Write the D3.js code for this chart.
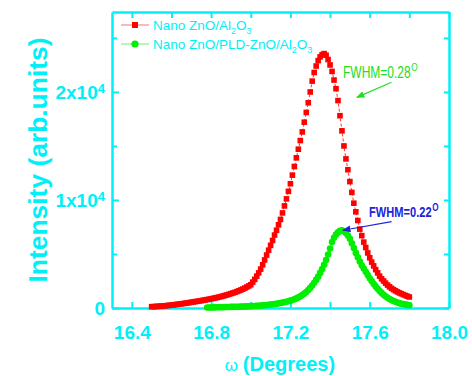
<!DOCTYPE html>
<html>
<head>
<meta charset="utf-8">
<script src="https://cdn.jsdelivr.net/npm/d3@7"></script>
<style>
  body { margin: 0; background: #fff; }
  svg { display: block; font-family: "Liberation Sans", Arial, sans-serif; }
</style>
</head>
<body>
<script>
// omega (degrees), 0.01 step
const redStart = 16.50
const redIntensity = [
  120, 130, 140, 150, 165, 180, 195, 210, 230, 250,
  270, 290, 315, 340, 365, 390, 415, 440, 470, 500,
  530, 560, 590, 620, 650, 680, 710, 745, 780, 815,
  850, 890, 930, 970, 1010, 1060, 1110, 1160, 1210, 1270,
  1330, 1390, 1450, 1520, 1590, 1670, 1750, 1840, 1940, 2040,
  2150, 2400, 2650, 2950, 3250, 3600, 4000, 4450, 4900, 5350,
  5800, 6250, 6750, 7200, 7700, 8200, 8800, 9450, 10100, 10800,
  11500, 12300, 13100, 13900, 14700, 15500, 16300, 17200, 18100, 19000,
  20000, 21000, 21800, 22400, 22900, 23250, 23450, 23550, 23400, 23000,
  22500, 21900, 21100, 20300, 19200, 17800, 16400, 15000, 13800, 12800,
  11700, 10700, 9700, 8900, 8100, 7300, 6700, 6100, 5600, 5100,
  4650, 4250, 3900, 3550, 3250, 2950, 2700, 2500, 2300, 2120,
  1960, 1820, 1700, 1590, 1490, 1400, 1320, 1240, 1160, 1090,
  1020
]
const greenStart = 16.78
const greenIntensity = [
  40, 45, 50, 55, 60, 65, 70, 75, 80, 85,
  90, 95, 100, 105, 110, 115, 120, 125, 130, 140,
  150, 160, 170, 180, 190, 200, 215, 230, 245, 260,
  280, 300, 320, 345, 370, 400, 430, 460, 500, 540,
  580, 630, 680, 740, 810, 890, 980, 1080, 1200, 1330,
  1480, 1660, 1860, 2080, 2330, 2600, 2900, 3250, 3600, 4000,
  4450, 4950, 5500, 6100, 6500, 6800, 7000, 7150, 7200, 7100,
  6950, 6700, 6400, 6000, 5550, 5100, 4700, 4300, 3950, 3650,
  3350, 3050, 2750, 2500, 2250, 2000, 1780, 1580, 1400, 1230,
  1080, 950, 840, 740, 650, 580, 510, 450, 400, 360,
  320, 290, 260
]
const xTicks = [16.4, 16.6, 16.8, 17.0, 17.2, 17.4, 17.6, 17.8, 18.0]
const xLabels = [16.4, 16.8, 17.2, 17.6, 18.0]
const yTicks = [0, 5000, 10000, 15000, 20000, 25000]
const yLabels = [0, 10000, 20000]
const seriesNames = ["Nano ZnO/Al", "Nano ZnO/PLD-ZnO/Al"]

const width = 472
const height = 376
const cyan = "#00f0f8"

const toPoints = (start, vals) => vals.map((v, i) => ({x: +(start + i * 0.01).toFixed(2), y: v}))
const redData = toPoints(redStart, redIntensity)
const greenData = toPoints(greenStart, greenIntensity)

const x = d3.scaleLinear().domain([16.3, 18.0]).range([112, 449])
const y = d3.scaleLinear().domain([0, 27400]).range([308, 12])

const svg = d3.select("body").append("svg")
    .attr("width", width)
    .attr("height", height)

function styleAxis(g) {
  g.select(".domain").attr("stroke", cyan).attr("stroke-width", 2.5)
  g.selectAll(".tick line").attr("stroke", cyan).attr("stroke-width", 2)
  g.selectAll(".tick text").attr("fill", cyan).attr("font-weight", "bold")
      .attr("font-size", 19).attr("font-family", "Liberation Sans, Arial, sans-serif")
}

// bottom
svg.append("g")
    .attr("transform", "translate(0,308)")
    .call(d3.axisBottom(x).tickValues(xTicks).tickSizeInner(-6).tickSizeOuter(0).tickPadding(18)
      .tickFormat(d => xLabels.some(v => Math.abs(v - d) < 1e-6) ? d3.format(".1f")(d) : ""))
    .call(styleAxis)

// top
svg.append("g")
    .attr("transform", "translate(0,12)")
    .call(d3.axisTop(x).tickValues(xTicks).tickSizeInner(-6).tickSizeOuter(0).tickFormat(""))
    .call(styleAxis)

// left
const yAxis = svg.append("g")
    .attr("transform", "translate(112,0)")
    .call(d3.axisLeft(y).tickValues(yTicks).tickSizeOuter(0).tickPadding(9)
      .tickSizeInner(-5).tickFormat(""))
    .call(styleAxis)
yAxis.selectAll(".tick line").attr("x2", d => yLabels.includes(d) ? 7 : 5)
yAxis.selectAll(".tick").filter(d => yLabels.includes(d)).append("text")
    .attr("x", -7)
    .attr("dy", "0.35em")
    .attr("text-anchor", "end")
    .attr("fill", cyan)
    .attr("font-weight", "bold")
    .attr("font-size", 19)
    .each(function(d) {
      const t = d3.select(this)
      if (d === 0) {
        t.text("0")
      } else {
        t.append("tspan").text((d / 10000) + "x10")
        t.append("tspan").attr("font-size", 13).attr("dy", "-0.5em").text("4")
      }
    })

// right
svg.append("g")
    .attr("transform", "translate(449,0)")
    .call(d3.axisRight(y).tickValues(yTicks).tickSizeInner(-5).tickSizeOuter(0).tickFormat(""))
    .call(styleAxis)

// axis titles
svg.append("text")
    .attr("transform", "translate(47,160) rotate(-90)")
    .attr("text-anchor", "middle")
    .attr("fill", cyan)
    .attr("font-weight", "bold")
    .attr("font-size", 26)
    .attr("textLength", 245)
    .attr("lengthAdjust", "spacingAndGlyphs")
    .text("Intensity (arb.units)")

const xt = svg.append("text")
    .attr("x", 280)
    .attr("y", 371)
    .attr("text-anchor", "middle")
    .attr("fill", cyan)
    .attr("font-size", 20)
xt.append("tspan").attr("font-size", 17).text("ω ")
xt.append("tspan").attr("font-weight", "bold").text("(Degrees)")

// series
const line = d3.line().x(d => x(d.x)).y(d => y(d.y))

svg.append("path")
    .datum(redData)
    .attr("fill", "none")
    .attr("stroke", "#ff3030")
    .attr("stroke-width", 1)
    .attr("stroke-dasharray", "3,2")
    .attr("d", line)

svg.append("path")
    .datum(greenData)
    .attr("fill", "none")
    .attr("stroke", "#00ee00")
    .attr("stroke-width", 1)
    .attr("d", line)

svg.selectAll("rect.red")
    .data(redData)
    .enter()
    .append("rect")
    .attr("class", "red")
    .attr("x", d => x(d.x) - 2.8)
    .attr("y", d => y(d.y) - 2.8)
    .attr("width", 5.6)
    .attr("height", 5.6)
    .style("fill", "#ff0000")

svg.selectAll("circle.green")
    .data(greenData)
    .enter()
    .append("circle")
    .attr("class", "green")
    .attr("cx", d => x(d.x))
    .attr("cy", d => y(d.y))
    .attr("r", 3.3)
    .style("fill", "#00ee00")

// legend
const legend = svg.append("g")
const legRows = [
  {name: seriesNames[0], color: "#ff0000", line: "#ff7070", yy: 25, shape: "rect"},
  {name: seriesNames[1], color: "#00ee00", line: "#70ee70", yy: 44, shape: "circle"}
]
legRows.forEach(r => {
  legend.append("line")
      .attr("x1", 121).attr("x2", 149)
      .attr("y1", r.yy).attr("y2", r.yy)
      .attr("stroke", r.line).attr("stroke-width", 1)
  if (r.shape === "rect") {
    legend.append("rect")
        .attr("x", 132).attr("y", r.yy - 3).attr("width", 6).attr("height", 6)
        .attr("fill", r.color)
  } else {
    legend.append("circle").attr("cx", 135).attr("cy", r.yy).attr("r", 3.6).attr("fill", r.color)
  }
  const t = legend.append("text")
      .attr("x", 153).attr("y", r.yy + 5)
      .attr("fill", cyan)
      .attr("font-size", 13.5)
  t.append("tspan").text(r.name)
  t.append("tspan").attr("font-size", 9).attr("dy", 4).text("2")
  t.append("tspan").attr("dy", -4).text("O")
  t.append("tspan").attr("font-size", 9).attr("dy", 4).text("3")
})

// annotations
const defs = svg.append("defs")
function arrowHead(id, color) {
  defs.append("marker")
      .attr("id", id)
      .attr("viewBox", "0 0 10 10")
      .attr("refX", 9).attr("refY", 5)
      .attr("markerWidth", 7).attr("markerHeight", 7)
      .attr("orient", "auto")
    .append("path")
      .attr("d", "M0,1 L10,5 L0,9 Z")
      .attr("fill", color)
}
arrowHead("ag", "#22dd22")
arrowHead("ab", "#2222dd")

svg.append("line")
    .attr("x1", x(17.71)).attr("y1", y(20900))
    .attr("x2", x(17.535)).attr("y2", y(19500))
    .attr("stroke", "#22dd22").attr("stroke-width", 1.2)
    .attr("marker-end", "url(#ag)")

svg.append("line")
    .attr("x1", x(17.71)).attr("y1", y(8000))
    .attr("x2", x(17.465)).attr("y2", y(7200))
    .attr("stroke", "#2222dd").attr("stroke-width", 1.2)
    .attr("marker-end", "url(#ab)")

// narrow, tall lettering as in the original
const a1 = svg.append("text")
    .attr("transform", "translate(343,78) scale(0.75,1)")
    .attr("fill", "#22dd22")
    .attr("font-size", 16)
a1.append("tspan").text("FWHM=0.28")
a1.append("tspan").attr("font-size", 11).attr("dx", 1).attr("dy", -7).text("O")

const a2 = svg.append("text")
    .attr("transform", "translate(369,217) scale(0.74,1)")
    .attr("fill", "#2222dd")
    .attr("font-weight", "bold")
    .attr("font-size", 15)
a2.append("tspan").text("FWHM=0.22")
a2.append("tspan").attr("font-size", 11).attr("dx", 1).attr("dy", -6).text("O")
</script>
</body>
</html>
